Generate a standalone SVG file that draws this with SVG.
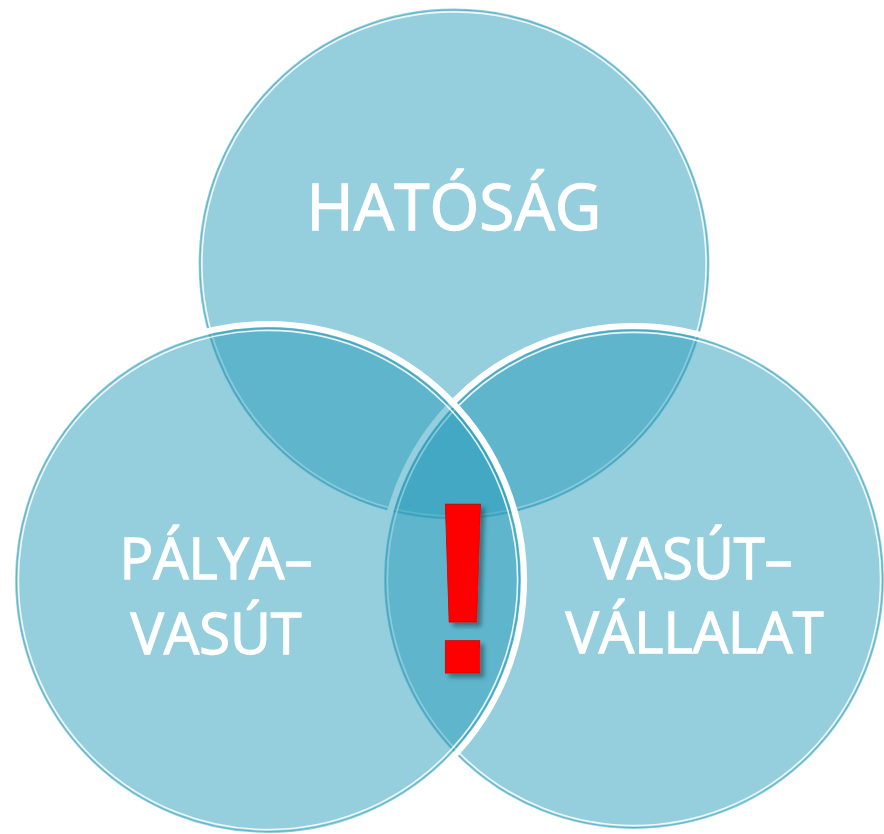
<svg xmlns="http://www.w3.org/2000/svg" width="884" height="834" viewBox="0 0 884 834">
  <defs>
    <style>
      .band { fill: none; stroke: #ffffff; stroke-width: 6.4; }
      .fill { fill: rgb(39,156,185); fill-opacity: 0.49; stroke: none; }
      .line { fill: none; stroke: rgb(39,156,185); stroke-opacity: 0.52; stroke-width: 1.8; }
      .inner { fill: none; stroke: #ffffff; stroke-opacity: 0.85; stroke-width: 1.6; }
      .label { font-family: "Open Sans", "Liberation Sans", sans-serif; fill: #ffffff; stroke: #ffffff; stroke-width: 1.3; text-anchor: middle; }
      .bang { font-family: "Liberation Sans", Arial, sans-serif; font-weight: bold; fill: #ff0000; stroke: #d40000; stroke-width: 0.8; text-anchor: middle; }
    </style>
    <filter id="shadow" x="-50%" y="-20%" width="200%" height="140%">
      <feDropShadow dx="4" dy="4" stdDeviation="2.2" flood-color="#0b3c48" flood-opacity="0.55"/>
    </filter>
  </defs>

  <g id="node-hatosag">
    <circle class="band" cx="454" cy="264" r="258.4"/>
    <circle class="fill" cx="454" cy="264" r="254.5"/>
    <circle class="line" cx="454" cy="264" r="254.5"/>
    <circle class="inner" cx="454" cy="264" r="252.1"/>
    <text class="label" x="454" y="230" font-size="64">HATÓSÁG</text>
  </g>

  <g id="node-vasutvallalat">
    <circle class="band" cx="634" cy="579" r="252.9"/>
    <circle class="fill" cx="634" cy="579" r="249"/>
    <circle class="line" cx="634" cy="579" r="249"/>
    <circle class="inner" cx="634" cy="579" r="246.6"/>
    <text class="label" x="693" y="579" font-size="56">VASÚT–</text>
    <text class="label" x="694.5" y="653" font-size="56">VÁLLALAT</text>
  </g>

  <g id="node-palyavasut">
    <circle class="band" cx="268" cy="580" r="255.9"/>
    <circle class="fill" cx="268" cy="580" r="252"/>
    <circle class="line" cx="268" cy="580" r="252"/>
    <circle class="inner" cx="268" cy="580" r="249.6"/>
    <text class="label" x="216" y="579" font-size="56">PÁLYA–</text>
    <text class="label" x="216" y="654" font-size="56">VASÚT</text>
  </g>

  <g id="connectors"></g>

  <g id="exclamation" filter="url(#shadow)">
    <text class="bang" x="463" y="673" font-size="245">!</text>
  </g>
</svg>
